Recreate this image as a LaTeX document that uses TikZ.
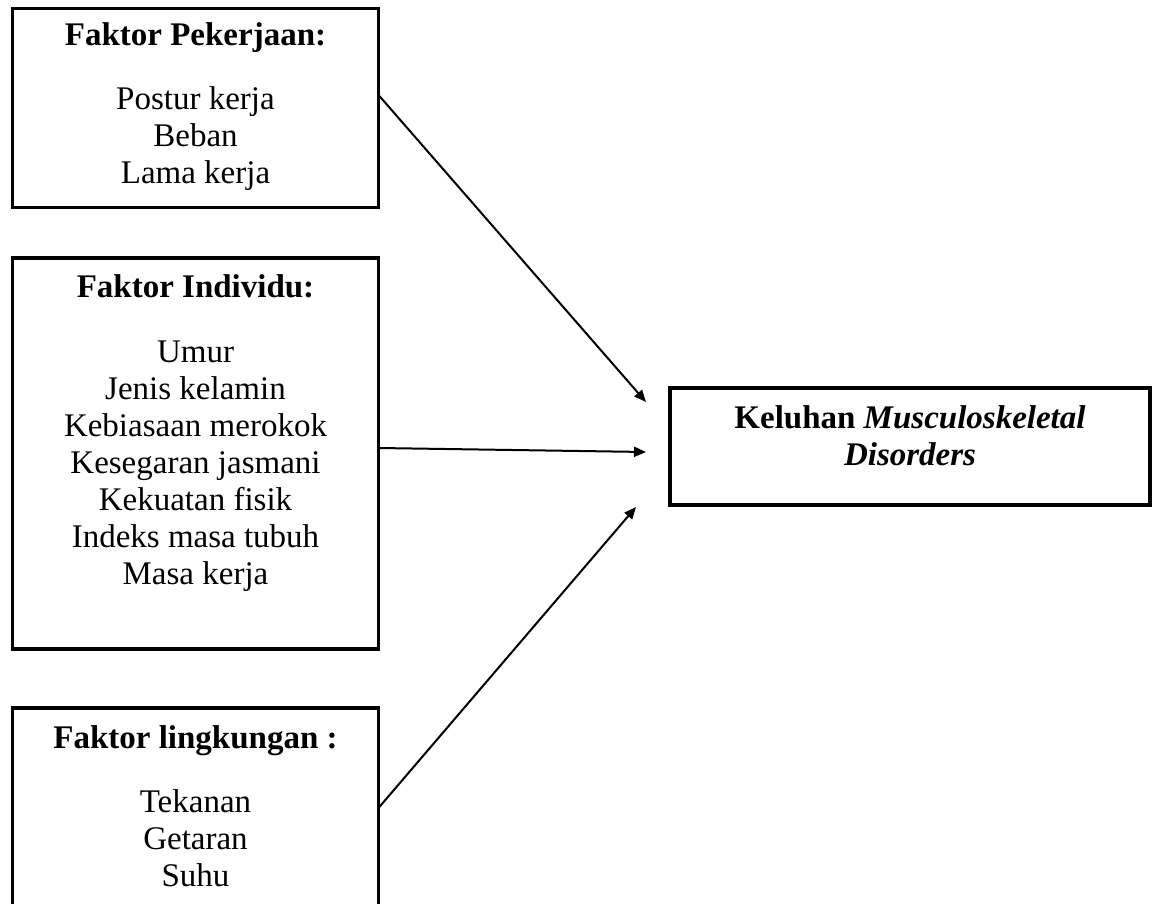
\documentclass[tikz,border=0pt]{standalone}
\usepackage{fontspec}
\setmainfont{Liberation Serif}
\usetikzlibrary{arrows.meta}
\begin{document}
\begin{tikzpicture}[x=1pt,y=-1pt,
  box/.style={draw, line width=3.5pt, inner sep=0pt, outer sep=0pt},
  ttl/.style={font=\fontsize{33}{37}\selectfont\bfseries, anchor=base, inner sep=0pt},
  itm/.style={font=\fontsize{33}{37}\selectfont, anchor=base, inner sep=0pt},
  conn/.style={line width=2pt, -{Triangle[length=12pt,width=10pt]}}]
\useasboundingbox (0,0) rectangle (1160,904);
% boxes
\node[box, minimum width=366pt, minimum height=199pt] (b1) at (195.5,108) {};
\node[box, minimum width=366pt, minimum height=391pt] (b2) at (195.5,453.5) {};
\node[box, minimum width=366pt, minimum height=208pt] (b3) at (195.5,812) {};
\node[box, minimum width=480pt, minimum height=117pt] (k) at (910,446.5) {};
% texts box 1
\node[ttl] (h1) at (195.5,46) {Faktor Pekerjaan:};
\foreach \t [count=\i] in {Postur kerja, Beban, Lama kerja}
  \node[itm] (p\i) at (195.5,73+37*\i) {\t};
% texts box 2
\node[ttl] (h2) at (195.5,298) {Faktor Individu:};
\foreach \t [count=\i] in {Umur, Jenis kelamin, Kebiasaan merokok, Kesegaran jasmani, Kekuatan fisik, Indeks masa tubuh, Masa kerja}
  \node[itm] (q\i) at (195.5,325+37*\i) {\t};
% texts box 3
\node[ttl] (h3) at (195.5,748) {Faktor lingkungan :};
\foreach \t [count=\i] in {Tekanan, Getaran, Suhu}
  \node[itm] (r\i) at (195.5,775+37*\i) {\t};
% target text
\node[ttl] (k1) at (910,428) {Keluhan \textit{Musculoskeletal}};
\node[ttl] (k2) at (910,465) {\textit{Disorders}};
% arrow tips
\coordinate (t1) at (646,402);
\coordinate (t2) at (646,452);
\coordinate (t3) at (636,507);
\draw[conn] ([yshift=13pt]b1.east) -- (t1);
\draw[conn] ([yshift=5.5pt]b2.east) -- (t2);
\draw[conn] ([yshift=4pt]b3.east) -- (t3);
\end{tikzpicture}
\end{document}
